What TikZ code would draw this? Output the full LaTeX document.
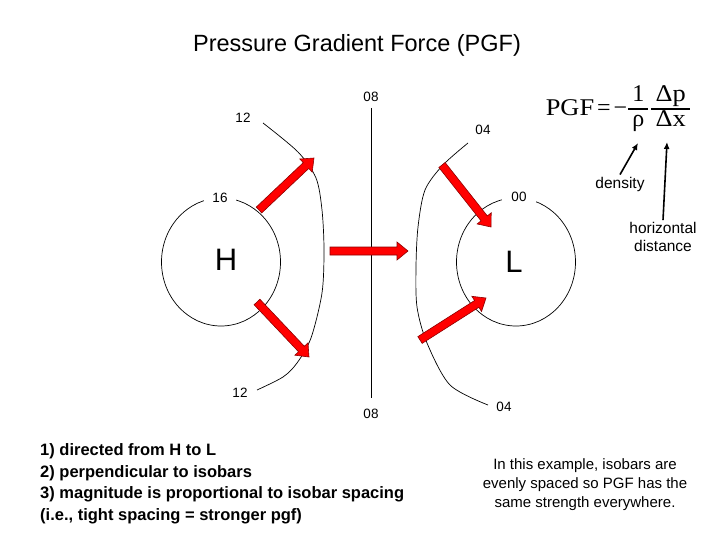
\documentclass[tikz,border=0pt]{standalone}
\usepackage{fontspec}
\setmainfont{Liberation Sans}
\newfontfamily\timesfont{Liberation Serif}
\usepackage{tikz}
\usetikzlibrary{arrows.meta,calc,shapes.geometric}

% block arrow from tail #1 to tip #2
\newcommand{\forcearrow}[2]{%
  \coordinate (neck) at ($(#2)!11pt!(#1)$);
  \filldraw[force] ($(#1)!4pt!90:(#2)$) -- ($(neck)!4pt!90:(#2)$)
    -- ($(neck)!9pt!90:(#2)$) -- (#2) -- ($(neck)!9pt!-90:(#2)$)
    -- ($(neck)!4pt!-90:(#2)$) -- ($(#1)!4pt!-90:(#2)$) -- cycle;}
% stacked fraction in text mode
\newcommand{\stackfrac}[2]{\begin{tabular}{@{}c@{}}#1\\\hline #2\end{tabular}}

\begin{document}
\begin{tikzpicture}[x=1pt, y=-1pt,
  isolab/.style={font=\fontsize{13.5}{16}\selectfont, inner sep=2pt},
  isobar/.style={line width=0.7pt},
  isoring/.style={ellipse, draw, line width=0.7pt, inner sep=0pt,
                  minimum width=119pt, minimum height=128pt},
  centre/.style={font=\fontsize{31}{36}\selectfont},
  force/.style={fill=red, draw=red!55!black, line width=0.6pt},
  pointer/.style={line width=1.6pt, -{Latex[length=7pt,width=6pt]}},
  note/.style={font=\fontsize{15.5}{18}\selectfont, align=center, inner sep=2pt}]
\useasboundingbox (0,0) rectangle (720,540);

\node[font=\fontsize{23.5}{28}\selectfont] (title) at (357,45)
  {Pressure Gradient Force (PGF)};

% formula
\node[font=\timesfont\fontsize{24}{26}\selectfont, inner sep=0pt] (pgf) at (618,109)
  {\setlength{\arrayrulewidth}{1.1pt}\renewcommand{\arraystretch}{0.92}%
   \scalebox{1.1}[1]{PGF}\hspace{3pt}=\hspace{3pt}−\hspace{1pt}\stackfrac{\,1\,}{ρ}\hspace{3pt}%
   \scalebox{1.1}[1]{\stackfrac{\,Δp\,}{Δx}}};
\coordinate (rho) at (638,143);
\coordinate (dx) at (667,142);
\node[note] (dens) at (620,184) {density};
\node[note] (hdist) at (663,237) {horizontal\\distance};
\draw[pointer] (dens.north) -- (rho);
\draw[pointer] (hdist.north) -- (dx);

% isobars
\node[isoring] (high) at (221,262) {};
\node[isoring] (low) at (516,262) {};
\node[centre] (H) at (226,260) {H};
\node[centre] (L) at (514,262) {L};
\node[isolab, fill=white, inner xsep=8pt] (p16) at (220,198) {16};
\node[isolab, fill=white, inner xsep=9pt] (p00) at (519,197) {00};

\node[isolab, inner ysep=6pt] (p08a) at (371,97) {08};
\node[isolab, inner ysep=6pt] (p08b) at (371,414) {08};
\draw[line width=1pt, shorten >=5pt] (p08a.south) -- (p08b.north);

\node[isolab] (p12a) at (243,118) {12};
\node[isolab] (p12b) at (240,393) {12};
\draw[isobar] plot[smooth, tension=0.5] coordinates {(263,123) (298,152)
  (316,178) (322,210) (324,250) (322,293) (311,338) (297,363) (283,377)
  (257,390)};

\node[isolab] (p04a) at (483,130) {04};
\node[isolab] (p04b) at (504,407) {04};
\draw[isobar] plot[smooth, tension=0.5] coordinates {(468,143) (443,165)
  (425,190) (418,227) (416,267) (417,307) (427,343) (450,385) (488,405)};

% forces
\coordinate (f1a) at (259,210); \coordinate (f1b) at (314,158);
\coordinate (f2a) at (257,302); \coordinate (f2b) at (309,357);
\coordinate (f3a) at (330,251); \coordinate (f3b) at (408,251);
\coordinate (f4a) at (442,165); \coordinate (f4b) at (491,227);
\coordinate (f5a) at (420,340); \coordinate (f5b) at (486,298);
\forcearrow{f1a}{f1b}
\forcearrow{f2a}{f2b}
\forcearrow{f3a}{f3b}
\forcearrow{f4a}{f4b}
\forcearrow{f5a}{f5b}

% texts
\node[anchor=west, align=left, inner sep=0pt,
      font=\bfseries\fontsize{16.5}{21.5}\selectfont] (rules) at (40,484)
  {1) directed from H to L\\2) perpendicular to isobars\\
   3) magnitude is proportional to isobar spacing\\
   (i.e., tight spacing = stronger pgf)};
\node[align=center, inner sep=0pt, font=\fontsize{15}{19}\selectfont]
  (remark) at (585,485)
  {In this example, isobars are\\evenly spaced so PGF has the\\
   same strength everywhere.};
\end{tikzpicture}
\end{document}
